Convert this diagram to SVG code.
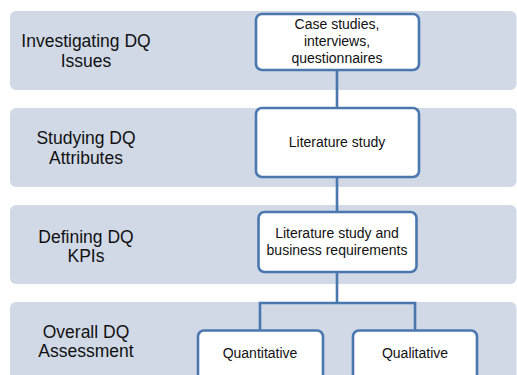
<svg xmlns="http://www.w3.org/2000/svg" width="517" height="375" viewBox="0 0 517 375">
<style>
.band{fill:#d1d9e7}
.box{fill:#ffffff;stroke:#4a77ae;stroke-width:2.6}
.conn{fill:none;stroke:#4a77ae;stroke-width:2.6}
.lbl{font-family:"Liberation Sans",Arial,sans-serif;font-size:17.5px;fill:#111;text-anchor:middle}
.txt{font-family:"Liberation Sans",Arial,sans-serif;font-size:14px;fill:#111;text-anchor:middle}
</style>
<rect width="517" height="375" fill="#ffffff"/>
<g id="band1"><rect class="band" x="10" y="11" width="506.5" height="79" rx="6"/>
<text class="lbl" x="86" y="47">Investigating DQ</text><text class="lbl" x="86" y="67">Issues</text></g>
<g id="band2"><rect class="band" x="10" y="108" width="506.5" height="79" rx="6"/>
<text class="lbl" x="86" y="144">Studying DQ</text><text class="lbl" x="86" y="164">Attributes</text></g>
<g id="band3"><rect class="band" x="10" y="205" width="506.5" height="79" rx="6"/>
<text class="lbl" x="86" y="243">Defining DQ</text><text class="lbl" x="86" y="262">KPIs</text></g>
<g id="band4"><rect class="band" x="10" y="302" width="506.5" height="85" rx="6"/>
<text class="lbl" x="86" y="338">Overall DQ</text><text class="lbl" x="86" y="357">Assessment</text></g>
<g id="connectors">
<line class="conn" x1="337" y1="70" x2="337" y2="108"/>
<line class="conn" x1="337" y1="177" x2="337" y2="212"/>
<line class="conn" x1="337" y1="272" x2="337" y2="303"/>
<polyline class="conn" points="260,330.5 260,303 415,303 415,330.5"/>
</g>
<g id="box1"><rect class="box" x="256" y="14" width="163" height="56" rx="6"/>
<text class="txt" x="337" y="29">Case studies,</text><text class="txt" x="337" y="46">interviews,</text><text class="txt" x="337" y="63">questionnaires</text></g>
<g id="box2"><rect class="box" x="256" y="108" width="163" height="69" rx="6"/>
<text class="txt" x="337" y="147">Literature study</text></g>
<g id="box3"><rect class="box" x="258.5" y="212" width="158" height="60" rx="6"/>
<text class="txt" x="337" y="238">Literature study and</text><text class="txt" x="337" y="255">business requirements</text></g>
<g id="box4"><rect class="box" x="198" y="330.5" width="125" height="60" rx="6"/>
<text class="txt" x="260" y="358">Quantitative</text></g>
<g id="box5"><rect class="box" x="353" y="330.5" width="124" height="60" rx="6"/>
<text class="txt" x="415" y="358">Qualitative</text></g>
</svg>
